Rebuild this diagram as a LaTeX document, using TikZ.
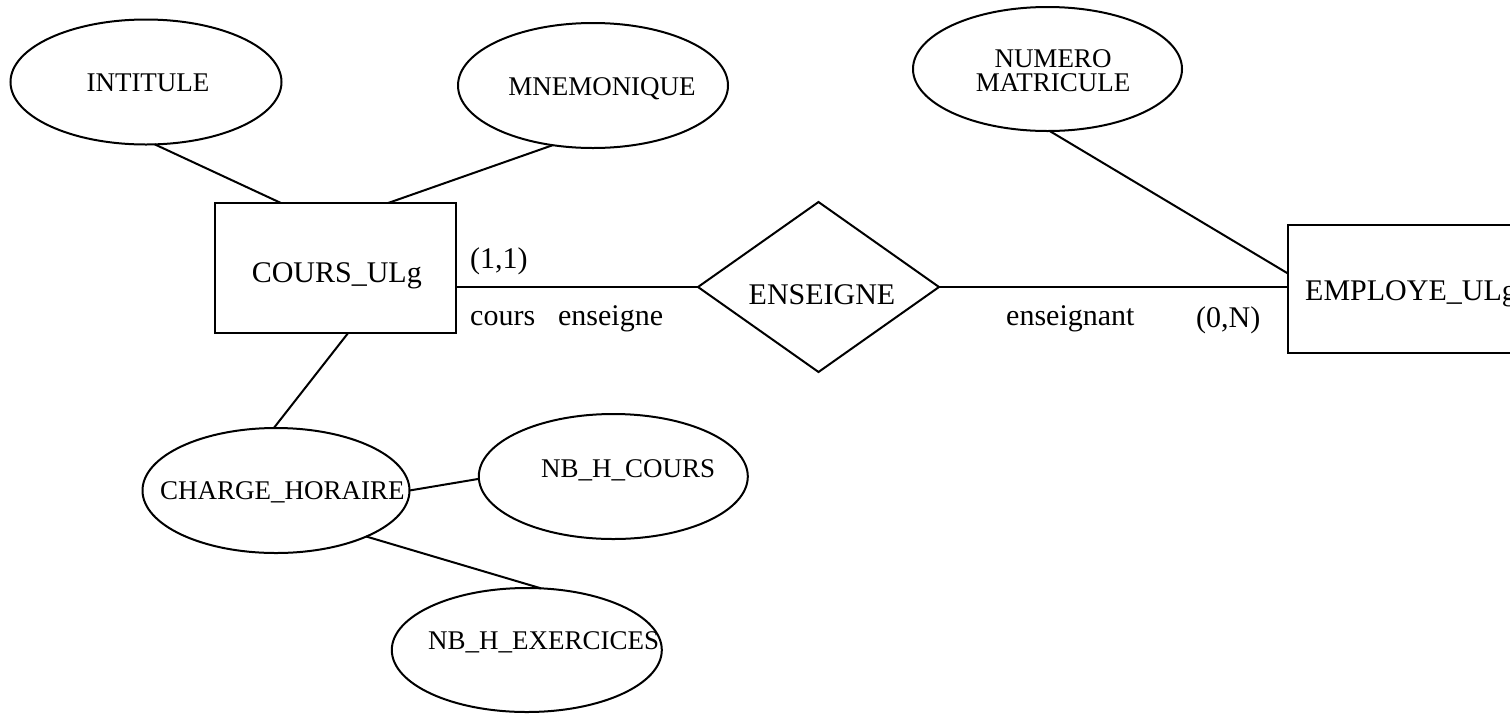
\documentclass[tikz,border=0pt]{standalone}
\usepackage{fontspec}
\setmainfont{Liberation Serif}
\usetikzlibrary{shapes.geometric}

\tikzset{
  er/.style={draw, line width=2pt, inner sep=0pt, outer sep=0pt},
  attr/.style={er, ellipse},
  entity/.style={er, rectangle},
  relation/.style={er, diamond},
  link/.style={line width=2pt},
  small/.style={inner sep=0pt, anchor=base, font=\fontsize{27}{24}\selectfont, align=center},
  big/.style={inner sep=0pt, anchor=base, font=\fontsize{30}{30}\selectfont},
}

\begin{document}
\begin{tikzpicture}[x=1pt, y=-1pt]
  \clip (0,0) rectangle (1510,713);
  \fill[white] (0,0) rectangle (1510,713);

  % entities
  \node[entity, minimum width=241pt, minimum height=130pt] (cours) at (335.5,268) {};
  \node[entity, minimum width=252pt, minimum height=128pt] (employe) at (1414,289) {};
  \node[big] (cours-t) at (336.8,282) {COURS\_ULg};
  \node[big, anchor=base west] (employe-t) at (1305,300) {EMPLOYE\_ULg};

  % relationship
  \node[relation, minimum width=241pt, minimum height=170pt] (enseigne) at (818.5,287) {};
  \node[big] (enseigne-t) at (822,304) {ENSEIGNE};

  % attributes
  \node[attr, minimum width=271pt, minimum height=125pt] (intitule) at (146,82) {};
  \node[attr, minimum width=270pt, minimum height=125pt] (mnemo) at (593,85.5) {};
  \node[attr, minimum width=269pt, minimum height=124pt] (numero) at (1047.5,69) {};
  \node[attr, minimum width=267pt, minimum height=125pt] (charge) at (276,490.5) {};
  \node[attr, minimum width=269pt, minimum height=125pt] (nbcours) at (613.3,476.5) {};
  \node[attr, minimum width=270pt, minimum height=124pt] (nbexo) at (526.8,650) {};

  \node[small] (intitule-t) at (148,91) {INTITULE};
  \node[small] (mnemo-t) at (602,95) {MNEMONIQUE};
  \node[small, anchor=center] (numero-t) at (1053,70.5) {NUMERO\\MATRICULE};
  \node[small, anchor=base west] (charge-t) at (160,499) {CHARGE\_HORAIRE};
  \node[small, anchor=base west] (nbcours-t) at (541,477) {NB\_H\_COURS};
  \node[small, anchor=base west] (nbexo-t) at (428,649) {NB\_H\_EXERCICES};

  % attribute links
  \draw[link] (intitule.-82) -- (cours.130.5);
  \draw[link] (mnemo.-124) -- (cours.51);
  \draw[link] (cours.-79) -- (charge.92);
  \draw[link] (charge.0) -- (nbcours.181);
  \draw[link] (charge.-27) -- (nbexo.77);
  \draw[link] (numero.-88) -- (employe.173);

  % relationship links
  \draw[link] (cours.east |- enseigne.west) -- (enseigne.west);
  \draw[link] (enseigne.east) -- (enseigne.east -| employe.west);

  % role names and cardinalities
  \node[big, anchor=base west] (card-cours) at (470,268) {(1,1)};
  \node[big, anchor=base west] (role-cours) at (470,325) {cours\hspace*{23pt}enseigne};
  \node[big, anchor=base west] (role-emp) at (1006,325) {enseignant};
  \node[big, anchor=base west] (card-emp) at (1196,327) {(0,N)};
\end{tikzpicture}
\end{document}
